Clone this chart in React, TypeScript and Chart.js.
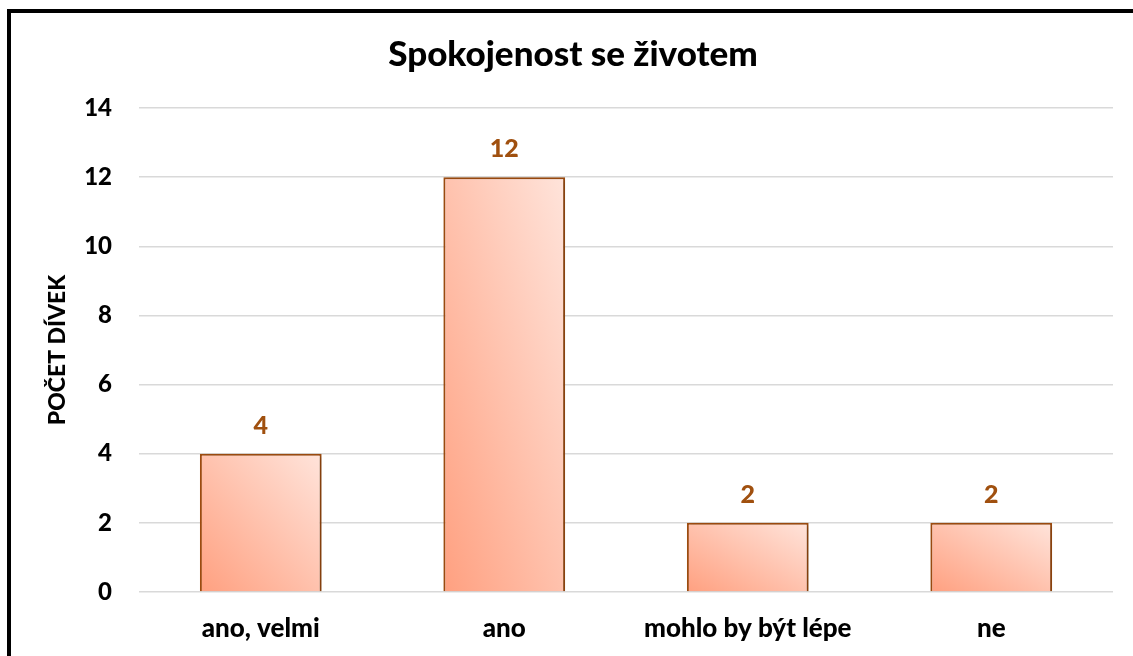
import React, { useEffect, useRef } from 'react';
import { Chart, registerables } from 'chart.js';

Chart.register(...registerables);

const categories = ['ano, velmi', 'ano', 'mohlo by být lépe', 'ne'];
const counts = [4, 12, 2, 2];
const yTicks = [0, 2, 4, 6, 8, 10, 12, 14];
const chartTitle = 'Spokojenost se životem';
const yAxisTitle = 'POČET DÍVEK';

const FONT = 'Lato, "Open Sans", sans-serif';
const WEIGHT = '900';
const LABEL_COLOR = '#A0500F';
const BORDER_COLOR = '#9E4C0F';
const GRID_COLOR = '#D9D9D9';
const BAR_PCT = 0.5;

export default function App() {
  const ref = useRef<HTMLCanvasElement>(null);

  useEffect(() => {
    const canvas = ref.current;
    if (!canvas) return;

    const valueLabels = {
      id: 'valueLabels',
      afterDatasetsDraw(chart: any) {
        const ctx = chart.ctx;
        const meta = chart.getDatasetMeta(0);
        ctx.save();
        ctx.font = `${WEIGHT} 25px ${FONT}`;
        ctx.fillStyle = LABEL_COLOR;
        ctx.textAlign = 'center';
        ctx.textBaseline = 'middle';
        meta.data.forEach((el: any, i: number) => {
          ctx.fillText(String(counts[i]), el.x, el.y - 28);
        });
        ctx.restore();
      },
    };

    const barShadow = {
      id: 'barShadow',
      beforeDatasetDraw(chart: any) {
        const c = chart.ctx;
        c.save();
        c.shadowColor = 'rgba(0,0,0,0.22)';
        c.shadowBlur = 4;
        c.shadowOffsetX = 2;
        c.shadowOffsetY = 1;
      },
      afterDatasetDraw(chart: any) {
        chart.ctx.restore();
      },
    };

    const bg = (c: any) => {
      const chart = c.chart;
      const xs = chart.scales?.x;
      const ys = chart.scales?.y;
      if (!xs || !ys || c.dataIndex === undefined || !chart.chartArea) return '#FFC0A8';
      const i = c.dataIndex;
      const v = counts[i];
      const w = (xs.width / categories.length) * BAR_PCT;
      const left = xs.getPixelForValue(i) - w / 2;
      const bottom = ys.getPixelForValue(0);
      const top = ys.getPixelForValue(v);
      const h = Math.max(1, bottom - top);
      const t = (2 * w * h) / (w * w + h * h);
      const g = chart.ctx.createLinearGradient(left, bottom, left + t * h, bottom - t * w);
      g.addColorStop(0, '#FFA080');
      g.addColorStop(1, '#FFE4DB');
      return g;
    };

    const chart = new Chart(canvas, {
      type: 'bar',
      data: {
        labels: categories,
        datasets: [
          {
            data: counts,
            backgroundColor: bg,
            borderColor: BORDER_COLOR,
            borderWidth: 2,
            borderSkipped: 'bottom',
            categoryPercentage: 1,
            barPercentage: BAR_PCT,
          },
        ],
      },
      options: {
        responsive: false,
        animation: false,
        layout: { padding: { left: 33, right: 20, top: 0, bottom: 0 } },
        plugins: {
          legend: { display: false },
          tooltip: { enabled: false },
          title: {
            display: true,
            text: chartTitle,
            color: '#000000',
            font: { family: FONT, size: 35, weight: WEIGHT },
            padding: { top: 34, bottom: 32 },
          },
        },
        scales: {
          x: {
            grid: { display: false, drawTicks: false },
            border: { display: false },
            ticks: {
              color: '#000000',
              font: { family: FONT, size: 26, weight: WEIGHT },
              padding: 21,
              maxRotation: 0,
              autoSkip: false,
            },
            afterFit: (s: any) => {
              s.height = 64;
            },
          },
          y: {
            min: 0,
            max: 14,
            grid: { color: GRID_COLOR, lineWidth: 1.5, drawTicks: false },
            border: { display: false },
            ticks: {
              color: '#000000',
              font: { family: FONT, size: 24, weight: WEIGHT },
              padding: 27,
            },
            afterBuildTicks: (s: any) => {
              s.ticks = yTicks.map((v) => ({ value: v }));
            },
            title: {
              display: true,
              text: yAxisTitle,
              color: '#000000',
              font: { family: FONT, size: 23, weight: WEIGHT },
              padding: { top: 11, bottom: 0 },
            },
            afterFit: (s: any) => {
              s.width = 106;
            },
          },
        },
      },
      plugins: [barShadow, valueLabels],
    });

    return () => chart.destroy();
  }, []);

  return (
    <div
      style={{
        position: 'fixed',
        left: 0,
        top: 0,
        width: 1133,
        height: 656,
        overflow: 'hidden',
        background: '#ffffff',
      }}
    >
      <div
        style={{
          position: 'absolute',
          left: 7,
          top: 9,
          width: 1300,
          height: 800,
          borderLeft: '4px solid #000000',
          borderTop: '4px solid #000000',
          boxSizing: 'border-box',
        }}
      />
      <canvas
        ref={ref}
        width={1133}
        height={656}
        style={{ position: 'absolute', left: 0, top: 0, width: 1133, height: 656 }}
      />
    </div>
  );
}
